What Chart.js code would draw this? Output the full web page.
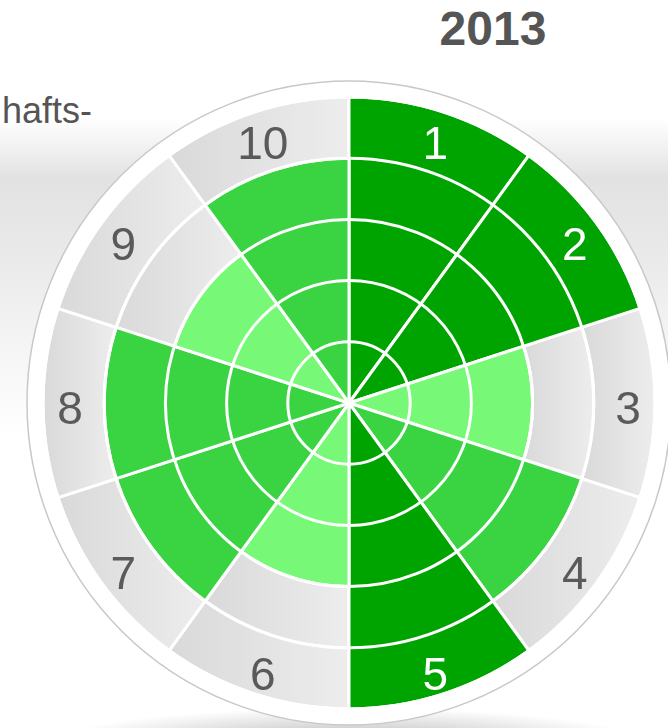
<!DOCTYPE html>
<html><head><meta charset="utf-8">
<script src="https://cdn.jsdelivr.net/npm/chart.js@4.4.1/dist/chart.umd.min.js"></script>
<style>
html,body{margin:0;padding:0;}
body{width:668px;height:728px;overflow:hidden;position:relative;
background:
 radial-gradient(ellipse 300px 36px at 349px 744px, rgba(0,0,0,0.30), rgba(0,0,0,0) 100%),
 linear-gradient(to bottom, #fff 0px, #fff 118px, #e2e2e2 178px, #eaeaea 260px, #f4f4f4 340px, #fdfdfd 420px, #fff 440px, #fff 728px);
font-family:"Liberation Sans", Arial, sans-serif;}
#wrap{position:absolute;left:0;top:0;width:668px;height:728px;}
.t{position:absolute;color:#555;white-space:nowrap;}
#title{left:393px;width:200px;text-align:center;top:5px;font-size:48px;line-height:48px;font-weight:bold;}
#side{left:2px;top:93px;font-size:36px;line-height:36px;}
</style></head>
<body>
<div class="t" id="side">hafts-</div>
<div class="t" id="title">2013</div>
<div id="wrap"><canvas id="c" width="668" height="728"></canvas></div>
<script>
// ---- data ----
const categories = ['1','2','3','4','5','6','7','8','9','10'];
const scores = [5, 5, 3, 4, 5, 3, 4, 4, 3, 4];
const ringLevels = [1, 2, 3, 4, 5];
const scaleMin = 0;
const scaleMax = 5;

// ---- styles ----
const scoreColors = {3: '#77F977', 4: '#3AD443', 5: '#00A400'};
const greyDark = '#d9d9d9', greyLight = '#ededed';

function cellGradient(ctx, level) {
  const chart = ctx.chart;
  const sc = chart.scales && chart.scales.r;
  if (!sc || !sc.drawingArea) return '#e3e3e3';
  const n = categories.length, i = ctx.dataIndex;
  const a0 = i * 2 * Math.PI / n, a1 = (i + 1) * 2 * Math.PI / n;
  const r0 = sc.getDistanceFromCenterForValue(level - 1);
  const r1 = sc.getDistanceFromCenterForValue(level);
  const xs = [];
  [a0, a1].forEach(a => [r0, r1].forEach(r => xs.push(sc.xCenter + r * Math.sin(a))));
  [Math.PI / 2, 3 * Math.PI / 2].forEach(a => { if (a > a0 && a < a1) xs.push(sc.xCenter + r1 * Math.sin(a)); });
  const minX = Math.min(...xs), maxX = Math.max(...xs);
  const g = chart.ctx.createLinearGradient(minX, 0, maxX, 0);
  g.addColorStop(0, greyDark);
  g.addColorStop(1, greyLight);
  return g;
}

const datasets = [{
  label: 'Bewertung',
  data: scores,
  backgroundColor: scores.map(v => scoreColors[v]),
  borderColor: '#ffffff',
  borderWidth: 3
}];
ringLevels.forEach(level => {
  datasets.push({
    label: 'Ring ' + level,
    data: categories.map(() => level),
    backgroundColor: (ctx) => cellGradient(ctx, level),
    borderColor: '#ffffff',
    borderWidth: 3
  });
});

const discPlugin = {
  id: 'disc',
  beforeDatasetsDraw(chart) {
    const sc = chart.scales.r, c = chart.ctx;
    c.save();
    c.beginPath();
    c.arc(sc.xCenter, sc.yCenter, sc.drawingArea + 16, 0, Math.PI * 2);
    c.fillStyle = '#ffffff';
    c.fill();
    c.lineWidth = 1.5;
    c.strokeStyle = '#c8c8c8';
    c.stroke();
    c.restore();
  }
};

const labelPlugin = {
  id: 'segLabels',
  afterDraw(chart) {
    const sc = chart.scales.r, c = chart.ctx;
    const n = categories.length;
    const r = sc.getDistanceFromCenterForValue(4.56);
    c.save();
    c.font = '46px "Liberation Sans", Arial, sans-serif';
    c.textAlign = 'center';
    c.textBaseline = 'alphabetic';
    categories.forEach((lab, i) => {
      const a = (i + 0.5) * 2 * Math.PI / n;
      const x = sc.xCenter + r * Math.sin(a);
      const y = sc.yCenter - r * Math.cos(a) + 5;
      c.fillStyle = scores[i] >= 5 ? '#ffffff' : '#5a5a5a';
      c.fillText(lab, x, y + 0.358 * 46);
    });
    c.restore();
  }
};

new Chart(document.getElementById('c'), {
  type: 'polarArea',
  data: { labels: categories, datasets },
  options: {
    responsive: false,
    animation: false,
    layout: { padding: { left: 43, top: 97, right: 13, bottom: 19 } },
    plugins: { legend: { display: false }, tooltip: { enabled: false }, title: { display: false } },
    events: [],
    scales: {
      r: {
        min: scaleMin, max: scaleMax,
        ticks: { display: false, stepSize: 1 },
        grid: { color: '#ffffff', lineWidth: 3, z: 1, circular: true },
        angleLines: { display: false },
        pointLabels: { display: false }
      }
    }
  },
  plugins: [discPlugin, labelPlugin]
});
</script>
</body></html>
